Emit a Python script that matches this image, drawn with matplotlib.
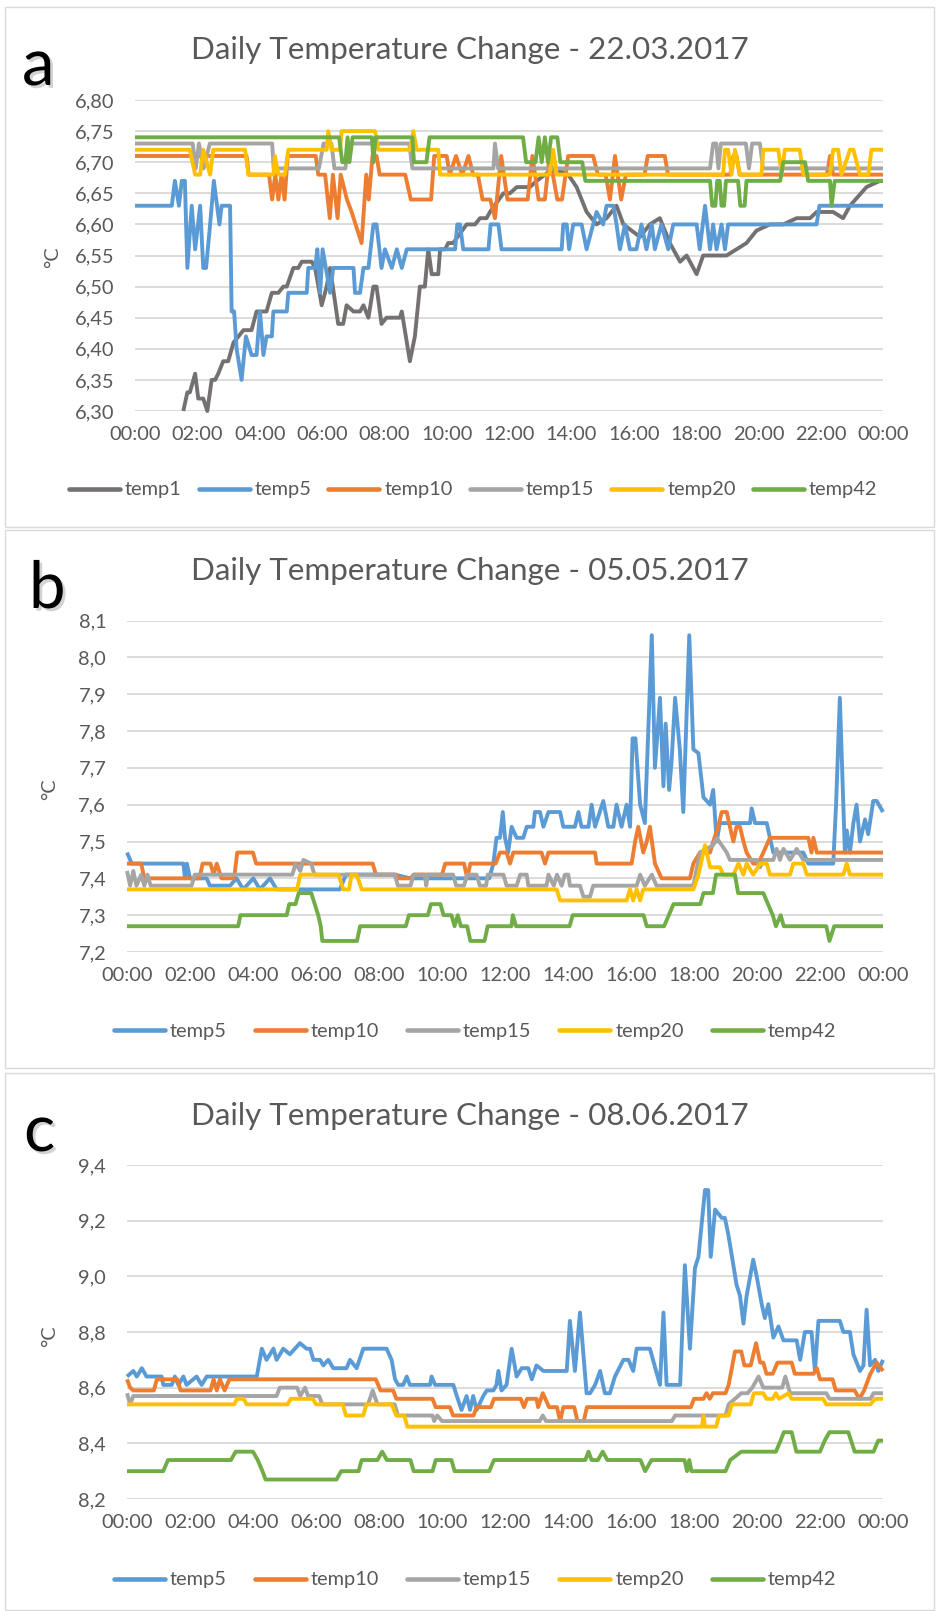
import matplotlib
matplotlib.use('Agg')
import matplotlib.pyplot as plt
import matplotlib.patheffects as pe
from matplotlib.patches import Rectangle

plt.rcParams['font.family'] = ['Lato', 'DejaVu Sans']

# ---------------- data (hour, °C) ----------------
SERIES_A = ['temp1', 'temp5', 'temp10', 'temp15', 'temp20', 'temp42']
SERIES_BC = ['temp5', 'temp10', 'temp15', 'temp20', 'temp42']
COLORS = {'temp1': '#767171', 'temp5': '#5B9BD5', 'temp10': '#ED7D31',
          'temp15': '#A5A5A5', 'temp20': '#FFC000', 'temp42': '#70AD47'}
TITLES = ['Daily Temperature Change - 22.03.2017',
          'Daily Temperature Change - 05.05.2017',
          'Daily Temperature Change - 08.06.2017']
LETTERS = ['a', 'b', 'c']
X_TICKS = [0, 2, 4, 6, 8, 10, 12, 14, 16, 18, 20, 22, 24]
X_LABELS = ['00:00', '02:00', '04:00', '06:00', '08:00', '10:00', '12:00',
            '14:00', '16:00', '18:00', '20:00', '22:00', '00:00']
Y_TICKS_A = [6.30, 6.35, 6.40, 6.45, 6.50, 6.55, 6.60, 6.65, 6.70, 6.75, 6.80]
Y_TICKS_B = [7.2, 7.3, 7.4, 7.5, 7.6, 7.7, 7.8, 7.9, 8.0, 8.1]
Y_TICKS_C = [8.2, 8.4, 8.6, 8.8, 9.0, 9.2, 9.4]

# panel a
A_TEMP1 = [(1.55,6.30),(1.68,6.33),(1.76,6.33),(1.93,6.36),(2.03,6.32),(2.19,6.32),(2.32,6.30),(2.46,6.35),(2.57,6.35),(2.67,6.36),
           (2.83,6.38),(2.99,6.38),(3.16,6.41),(3.48,6.43),(3.74,6.43),(3.90,6.46),(4.22,6.46),(4.39,6.49),(4.60,6.49),(4.76,6.50),
           (4.87,6.50),(5.08,6.53),(5.24,6.53),(5.35,6.54),(5.67,6.54),(5.78,6.53),(5.99,6.47),(6.15,6.50),(6.26,6.53),(6.52,6.44),
           (6.68,6.44),(6.79,6.47),(7.01,6.46),(7.22,6.46),(7.33,6.47),(7.49,6.45),(7.65,6.50),(7.75,6.50),(7.91,6.44),(8.07,6.45),
           (8.50,6.45),(8.56,6.46),(8.82,6.38),(8.98,6.42),(9.14,6.50),(9.30,6.50),(9.41,6.56),(9.52,6.52),(9.73,6.52),(9.79,6.56),
           (9.95,6.56),(10.05,6.57),(10.21,6.57),(10.64,6.60),(10.91,6.60),(11.07,6.61),(11.28,6.61),(11.39,6.62),(11.82,6.65),(12.03,6.65),
           (12.25,6.66),(12.67,6.66),(12.89,6.67),(13.42,6.69),(13.90,6.68),(14.17,6.66),(14.49,6.62),(14.81,6.60),(15.13,6.61),(15.45,6.63),
           (15.67,6.60),(16.20,6.58),(16.52,6.60),(16.84,6.61),(17.16,6.57),(17.49,6.54),(17.70,6.55),(18.02,6.52),(18.23,6.55),(18.66,6.55),
           (18.98,6.55),(19.30,6.56),(19.62,6.57),(19.94,6.59),(20.37,6.60),(20.80,6.60),(21.23,6.61),(21.66,6.61),(21.87,6.62),(22.40,6.62),
           (22.72,6.61),(22.94,6.63),(23.47,6.66),(23.90,6.67),(24.0,6.67)]
A_TEMP5 = [(0,6.63),(1.18,6.63),(1.28,6.67),(1.41,6.63),(1.50,6.67),(1.60,6.67),(1.68,6.53),(1.82,6.63),(1.93,6.56),(2.09,6.63),
           (2.19,6.53),(2.28,6.53),(2.41,6.60),(2.53,6.67),(2.71,6.60),(2.78,6.63),(3.05,6.63),(3.10,6.46),(3.18,6.46),(3.26,6.40),
           (3.42,6.35),(3.56,6.42),(3.74,6.39),(3.90,6.39),(4.01,6.46),(4.12,6.39),(4.22,6.42),(4.39,6.42),(4.44,6.46),(4.87,6.46),
           (4.92,6.49),(5.51,6.49),(5.56,6.53),(5.78,6.53),(5.85,6.56),(5.94,6.49),(6.02,6.56),(6.26,6.49),(6.36,6.53),(7.01,6.53),
           (7.06,6.49),(7.22,6.49),(7.33,6.53),(7.49,6.53),(7.65,6.60),(7.75,6.60),(7.91,6.53),(8.02,6.56),(8.24,6.53),(8.40,6.56),
           (8.56,6.53),(8.72,6.56),(10.27,6.56),(10.34,6.60),(10.43,6.60),(10.53,6.56),(11.34,6.56),(11.41,6.60),(11.66,6.60),(11.76,6.56),
           (13.69,6.56),(13.74,6.60),(13.85,6.60),(13.93,6.56),(14.06,6.60),(14.33,6.60),(14.49,6.56),(14.70,6.60),(14.81,6.62),(15.02,6.60),
           (15.13,6.63),(15.35,6.63),(15.45,6.60),(15.56,6.56),(15.72,6.60),(15.88,6.56),(16.09,6.56),(16.25,6.60),(16.41,6.56),(16.58,6.60),
           (16.68,6.56),(16.89,6.60),(17.11,6.56),(17.27,6.60),(18.02,6.60),(18.12,6.56),(18.29,6.63),(18.45,6.56),(18.55,6.60),(18.66,6.56),
           (18.82,6.60),(18.93,6.56),(19.03,6.60),(21.87,6.60),(21.96,6.63),(24.0,6.63)]
A_TEMP10 = [(0,6.71),(3.58,6.71),(3.65,6.68),(4.30,6.68),(4.40,6.64),(4.50,6.68),(4.60,6.64),(4.70,6.68),(4.80,6.64),(4.90,6.71),
            (5.80,6.71),(5.88,6.68),(6.10,6.68),(6.25,6.61),(6.35,6.68),(6.50,6.61),(6.60,6.68),(6.80,6.64),(6.95,6.62),(7.27,6.57),
            (7.42,6.68),(7.50,6.64),(7.62,6.71),(7.75,6.71),(7.85,6.68),(8.67,6.68),(8.85,6.64),(9.50,6.64),(9.60,6.71),(10.00,6.71),
            (10.10,6.68),(10.30,6.71),(10.50,6.68),(10.70,6.71),(10.85,6.68),(11.00,6.68),(11.15,6.64),(11.40,6.64),(11.55,6.61),(11.75,6.71),
            (11.95,6.64),(12.60,6.64),(12.75,6.71),(12.95,6.64),(13.15,6.64),(13.30,6.71),(13.55,6.64),(13.70,6.64),(13.90,6.71),(14.70,6.71),
            (14.85,6.68),(15.10,6.68),(15.24,6.64),(15.40,6.71),(15.60,6.64),(15.75,6.68),(16.35,6.68),(16.45,6.71),(17.00,6.71),(17.10,6.68),
            (19.10,6.68),(19.20,6.71),(19.30,6.71),(19.40,6.68),(22.20,6.68),(22.30,6.71),(22.40,6.68),(24.0,6.68)]
A_TEMP15 = [(0,6.73),(1.85,6.73),(1.95,6.69),(2.05,6.73),(2.20,6.69),(2.40,6.73),(4.40,6.73),(4.45,6.69),(5.90,6.69),(6.05,6.73),
            (6.30,6.73),(6.40,6.69),(6.75,6.69),(6.85,6.73),(8.80,6.73),(8.90,6.69),(11.50,6.69),(11.55,6.73),(11.65,6.69),(18.45,6.69),
            (18.55,6.73),(18.65,6.73),(18.72,6.69),(18.80,6.73),(19.60,6.73),(19.70,6.69),(19.80,6.73),(20.05,6.73),(20.15,6.69),(24.0,6.69)]
A_TEMP20 = [(0,6.72),(1.76,6.72),(1.93,6.68),(2.09,6.68),(2.19,6.72),(2.41,6.68),(2.51,6.72),(3.53,6.72),(3.64,6.68),(4.44,6.68),
            (4.49,6.71),(4.60,6.68),(4.81,6.68),(4.92,6.72),(6.15,6.72),(6.20,6.75),(6.31,6.72),(6.58,6.72),(6.63,6.75),(7.70,6.75),
            (7.81,6.72),(8.82,6.72),(8.93,6.75),(9.04,6.72),(9.73,6.72),(9.79,6.68),(13.30,6.68),(13.42,6.72),(13.53,6.68),(18.87,6.68),
            (18.93,6.72),(19.03,6.72),(19.14,6.68),(19.25,6.72),(19.41,6.68),(20.10,6.68),(20.16,6.72),(20.64,6.72),(20.75,6.68),(20.85,6.72),
            (21.33,6.72),(21.44,6.68),(22.30,6.68),(22.40,6.72),(22.56,6.72),(22.67,6.68),(22.94,6.72),(23.05,6.72),(23.26,6.68),(23.53,6.68),
            (23.63,6.72),(24.0,6.72)]
A_TEMP42 = [(0,6.74),(6.55,6.74),(6.65,6.70),(6.75,6.70),(6.82,6.74),(6.88,6.70),(6.98,6.74),(7.60,6.74),(7.65,6.70),(7.72,6.74),
            (8.90,6.74),(8.95,6.70),(9.35,6.70),(9.45,6.74),(12.45,6.74),(12.55,6.70),(12.85,6.70),(12.95,6.74),(13.05,6.70),(13.15,6.74),
            (13.25,6.70),(13.35,6.74),(13.55,6.74),(13.65,6.70),(14.35,6.70),(14.45,6.67),(18.45,6.67),(18.52,6.63),(18.62,6.63),(18.68,6.67),
            (18.76,6.67),(18.82,6.63),(18.90,6.63),(18.96,6.67),(19.35,6.67),(19.42,6.63),(19.56,6.63),(19.62,6.67),(20.70,6.67),(20.80,6.70),
            (21.50,6.70),(21.60,6.67),(22.30,6.67),(22.35,6.63),(22.45,6.67),(24.0,6.67)]

# panel b
B_TEMP5 = [(0,7.47),(0.15,7.44),(1.79,7.44),(1.84,7.40),(1.90,7.44),(2.00,7.40),(2.53,7.40),(2.63,7.38),(3.27,7.38),(3.48,7.40),
           (3.69,7.37),(4.01,7.40),(4.22,7.37),(4.54,7.40),(4.75,7.37),(6.76,7.37),(6.95,7.41),(8.50,7.41),(9.00,7.40),(11.50,7.40),
           (11.63,7.44),(11.73,7.51),(11.84,7.51),(11.93,7.58),(12.00,7.51),(12.10,7.47),(12.21,7.54),(12.37,7.51),(12.58,7.51),(12.69,7.54),
           (12.90,7.54),(12.95,7.58),(13.11,7.58),(13.22,7.54),(13.38,7.58),(13.75,7.58),(13.85,7.54),(14.22,7.54),(14.33,7.58),(14.43,7.54),
           (14.65,7.54),(14.75,7.60),(14.86,7.54),(15.12,7.61),(15.28,7.54),(15.44,7.54),(15.54,7.60),(15.70,7.54),(15.86,7.60),(15.97,7.54),
           (16.05,7.78),(16.14,7.78),(16.29,7.60),(16.44,7.55),(16.66,8.06),(16.76,7.70),(16.92,7.89),(17.03,7.65),(17.10,7.82),(17.21,7.64),
           (17.29,7.72),(17.40,7.89),(17.55,7.75),(17.66,7.58),(17.85,8.06),(17.98,7.75),(18.14,7.74),(18.30,7.62),(18.51,7.60),(18.61,7.64),
           (18.72,7.50),(18.82,7.55),(19.78,7.55),(19.83,7.59),(19.94,7.55),(20.31,7.55),(20.41,7.51),(20.52,7.47),(21.47,7.47),(21.63,7.44),
           (22.42,7.44),(22.51,7.60),(22.63,7.89),(22.79,7.47),(22.85,7.53),(22.95,7.47),(23.06,7.55),(23.16,7.60),(23.27,7.50),(23.43,7.56),
           (23.53,7.52),(23.69,7.61),(23.80,7.61),(24.0,7.58)]
B_TEMP10 = [(0,7.44),(0.45,7.44),(0.55,7.40),(2.30,7.40),(2.40,7.44),(2.65,7.44),(2.75,7.41),(2.85,7.44),(3.00,7.40),(3.40,7.40),
            (3.50,7.47),(4.00,7.47),(4.10,7.44),(7.80,7.44),(7.90,7.41),(8.55,7.41),(8.60,7.40),(9.00,7.40),(9.10,7.41),(10.00,7.41),
            (10.10,7.44),(10.70,7.44),(10.80,7.40),(10.90,7.44),(11.70,7.44),(11.84,7.47),(12.05,7.47),(12.16,7.44),(12.26,7.47),(13.16,7.47),
            (13.27,7.44),(13.38,7.47),(14.86,7.47),(14.91,7.44),(16.02,7.44),(16.13,7.50),(16.23,7.54),(16.39,7.47),(16.50,7.50),(16.60,7.54),
            (16.76,7.44),(16.97,7.40),(17.87,7.40),(17.98,7.44),(18.19,7.47),(18.51,7.47),(18.61,7.50),(18.77,7.54),(18.88,7.58),(19.04,7.58),
            (19.14,7.54),(19.25,7.50),(19.35,7.54),(19.46,7.54),(19.57,7.50),(19.67,7.47),(19.88,7.44),(20.04,7.44),(20.20,7.47),(20.41,7.51),
            (21.63,7.51),(21.73,7.47),(21.79,7.51),(21.90,7.47),(24.0,7.47)]
B_TEMP15 = [(0,7.42),(0.10,7.38),(0.20,7.42),(0.30,7.38),(0.45,7.41),(0.55,7.38),(0.65,7.41),(0.75,7.38),(2.05,7.38),(2.15,7.41),
            (5.25,7.41),(5.35,7.44),(5.50,7.42),(5.60,7.45),(5.85,7.44),(5.95,7.41),(8.50,7.41),(8.60,7.38),(9.00,7.38),(9.10,7.41),
            (9.45,7.41),(9.50,7.38),(9.55,7.41),(10.35,7.41),(10.45,7.38),(10.70,7.38),(10.80,7.41),(11.10,7.41),(11.20,7.38),(11.40,7.38),
            (11.45,7.41),(11.95,7.41),(12.05,7.38),(12.37,7.38),(12.48,7.41),(12.69,7.41),(12.74,7.38),(13.32,7.38),(13.38,7.41),(13.55,7.38),
            (13.65,7.41),(13.80,7.38),(13.90,7.41),(14.01,7.41),(14.06,7.38),(14.38,7.38),(14.49,7.35),(14.70,7.35),(14.80,7.38),(16.18,7.38),
            (16.29,7.41),(16.44,7.38),(16.66,7.41),(16.81,7.38),(17.98,7.38),(18.19,7.47),(18.61,7.49),(18.72,7.51),(19.04,7.47),(19.14,7.45),
            (19.99,7.45),(20.10,7.43),(20.20,7.45),(20.52,7.45),(20.62,7.48),(20.73,7.45),(20.84,7.48),(21.05,7.45),(21.26,7.48),(21.47,7.45),
            (24.0,7.45)]
B_TEMP20 = [(0,7.37),(5.40,7.37),(5.50,7.41),(6.71,7.41),(6.87,7.37),(7.05,7.37),(7.13,7.41),(7.29,7.41),(7.45,7.37),(13.64,7.37),
            (13.75,7.34),(15.86,7.34),(15.97,7.37),(16.07,7.34),(16.18,7.37),(16.29,7.34),(16.39,7.37),(17.98,7.37),(18.14,7.41),(18.35,7.49),
            (18.51,7.43),(18.82,7.43),(18.93,7.41),(19.25,7.41),(19.41,7.44),(19.57,7.41),(19.67,7.44),(19.88,7.41),(20.10,7.44),(20.31,7.44),
            (20.41,7.41),(21.05,7.41),(21.15,7.44),(21.47,7.44),(21.58,7.41),(22.74,7.41),(22.85,7.44),(22.95,7.41),(24.0,7.41)]
B_TEMP42 = [(0,7.27),(3.53,7.27),(3.60,7.30),(5.07,7.30),(5.15,7.33),(5.35,7.33),(5.45,7.36),(5.85,7.36),(6.07,7.30),(6.15,7.27),
            (6.20,7.23),(7.30,7.23),(7.40,7.27),(8.85,7.27),(8.95,7.30),(9.55,7.30),(9.65,7.33),(9.95,7.33),(10.05,7.30),(10.30,7.30),
            (10.40,7.27),(10.50,7.30),(10.60,7.27),(10.80,7.27),(10.90,7.23),(11.35,7.23),(11.45,7.27),(12.20,7.27),(12.25,7.30),(12.35,7.27),
            (14.05,7.27),(14.15,7.30),(16.40,7.30),(16.50,7.27),(17.05,7.27),(17.20,7.30),(17.35,7.33),(18.20,7.33),(18.30,7.36),(18.60,7.36),
            (18.70,7.41),(19.30,7.41),(19.40,7.36),(20.20,7.36),(20.35,7.33),(20.50,7.30),(20.60,7.27),(20.75,7.30),(20.85,7.27),(22.20,7.27),
            (22.30,7.23),(22.45,7.27),(24.0,7.27)]

# panel c
C_TEMP5 = [(0,8.64),(0.20,8.66),(0.31,8.64),(0.47,8.67),(0.62,8.64),(1.10,8.64),(1.15,8.61),(1.42,8.61),(1.52,8.64),(1.63,8.61),
           (1.79,8.64),(1.89,8.61),(2.21,8.64),(2.37,8.61),(2.53,8.64),(4.12,8.64),(4.28,8.74),(4.43,8.70),(4.65,8.74),(4.75,8.70),
           (4.96,8.74),(5.17,8.72),(5.49,8.76),(5.70,8.74),(5.81,8.74),(5.92,8.70),(6.13,8.70),(6.23,8.68),(6.39,8.70),(6.55,8.67),
           (6.97,8.67),(7.08,8.70),(7.29,8.67),(7.50,8.74),(8.24,8.74),(8.40,8.70),(8.51,8.63),(8.61,8.61),(8.77,8.61),(8.88,8.64),
           (8.98,8.61),(9.62,8.61),(9.67,8.64),(9.78,8.61),(10.36,8.61),(10.47,8.57),(10.62,8.52),(10.78,8.57),(10.89,8.52),(10.99,8.57),
           (11.10,8.52),(11.31,8.57),(11.42,8.59),(11.63,8.59),(11.73,8.61),(11.79,8.66),(11.89,8.59),(12.05,8.61),(12.21,8.74),(12.37,8.64),
           (12.53,8.67),(12.74,8.67),(12.85,8.63),(13.00,8.68),(13.22,8.66),(13.96,8.66),(14.06,8.84),(14.22,8.66),(14.38,8.87),(14.59,8.58),
           (14.70,8.58),(14.86,8.61),(15.02,8.66),(15.17,8.58),(15.33,8.58),(15.49,8.64),(15.76,8.70),(15.92,8.70),(16.07,8.66),(16.18,8.74),
           (16.60,8.74),(16.92,8.61),(17.03,8.87),(17.13,8.61),(17.56,8.61),(17.71,9.04),(17.87,8.74),(18.03,9.03),(18.14,9.07),(18.35,9.31),
           (18.45,9.31),(18.53,9.07),(18.67,9.24),(18.88,9.21),(18.98,9.21),(19.09,9.15),(19.25,9.04),(19.35,8.97),(19.46,8.93),(19.57,8.83),
           (19.67,8.93),(19.88,9.06),(19.99,9.00),(20.15,8.90),(20.25,8.85),(20.36,8.90),(20.52,8.78),(20.68,8.82),(20.84,8.77),(21.26,8.77),
           (21.37,8.70),(21.52,8.80),(21.73,8.80),(21.84,8.66),(21.95,8.84),(22.63,8.84),(22.74,8.80),(22.95,8.80),(23.06,8.72),(23.27,8.66),
           (23.38,8.68),(23.48,8.88),(23.59,8.68),(23.75,8.70),(23.85,8.66),(24.0,8.70)]
C_TEMP10 = [(0,8.63),(0.10,8.60),(0.20,8.59),(0.85,8.59),(0.95,8.63),(1.60,8.63),(1.70,8.59),(2.65,8.59),(2.75,8.63),(2.85,8.59),
            (2.95,8.63),(3.10,8.59),(3.25,8.63),(7.90,8.63),(8.05,8.59),(8.45,8.59),(8.55,8.56),(9.70,8.56),(9.80,8.53),(10.25,8.53),
            (10.35,8.50),(11.00,8.50),(11.10,8.53),(11.55,8.53),(11.65,8.56),(12.50,8.56),(12.60,8.53),(12.70,8.56),(13.00,8.56),(13.05,8.53),
            (13.20,8.58),(13.40,8.53),(13.65,8.53),(13.75,8.48),(13.85,8.53),(14.20,8.53),(14.30,8.48),(14.50,8.48),(14.60,8.53),(17.90,8.53),
            (18.00,8.56),(18.30,8.56),(18.40,8.58),(18.50,8.56),(18.60,8.58),(19.00,8.58),(19.10,8.61),(19.30,8.73),(19.50,8.73),(19.60,8.68),
            (19.80,8.68),(19.97,8.76),(20.10,8.69),(20.20,8.69),(20.30,8.65),(20.50,8.65),(20.65,8.69),(21.10,8.69),(21.20,8.65),(21.80,8.65),
            (21.90,8.67),(22.00,8.63),(22.40,8.63),(22.50,8.59),(23.10,8.59),(23.25,8.56),(23.40,8.59),(23.60,8.65),(23.80,8.69),(24.0,8.66)]
C_TEMP15 = [(0,8.58),(0.10,8.54),(0.20,8.57),(0.40,8.57),(4.75,8.57),(4.85,8.60),(5.40,8.60),(5.50,8.57),(5.65,8.60),(5.75,8.57),
            (6.10,8.57),(6.20,8.54),(7.65,8.54),(7.80,8.59),(7.95,8.54),(8.50,8.54),(8.60,8.50),(9.70,8.50),(9.75,8.48),(9.85,8.50),
            (10.00,8.48),(13.10,8.48),(13.20,8.50),(13.30,8.48),(17.30,8.48),(17.40,8.50),(19.00,8.50),(19.10,8.54),(19.30,8.56),(19.50,8.58),
            (19.70,8.58),(19.85,8.60),(20.05,8.64),(20.20,8.60),(20.80,8.60),(20.90,8.64),(21.05,8.58),(22.20,8.58),(22.30,8.56),(23.60,8.56),
            (23.70,8.58),(24.0,8.58)]
C_TEMP20 = [(0,8.54),(3.40,8.54),(3.50,8.56),(3.70,8.56),(3.80,8.54),(5.10,8.54),(5.20,8.56),(5.90,8.56),(6.00,8.54),(6.85,8.54),
            (6.95,8.50),(7.50,8.50),(7.60,8.54),(8.40,8.54),(8.55,8.50),(8.80,8.50),(8.90,8.46),(18.25,8.46),(18.30,8.50),(18.35,8.46),
            (18.70,8.46),(18.80,8.50),(19.10,8.50),(19.20,8.54),(19.80,8.54),(19.90,8.58),(20.20,8.58),(20.30,8.56),(20.50,8.56),(20.60,8.58),
            (20.70,8.56),(21.00,8.58),(21.10,8.56),(22.10,8.56),(22.20,8.54),(23.60,8.54),(23.75,8.56),(24.0,8.56)]
C_TEMP42 = [(0,8.30),(1.15,8.30),(1.30,8.34),(3.30,8.34),(3.45,8.37),(4.00,8.37),(4.15,8.34),(4.30,8.30),(4.40,8.27),(6.65,8.27),
            (6.80,8.30),(7.35,8.30),(7.45,8.34),(7.95,8.34),(8.10,8.37),(8.25,8.34),(9.00,8.34),(9.10,8.30),(9.70,8.30),(9.80,8.34),
            (10.30,8.34),(10.40,8.30),(11.50,8.30),(11.65,8.34),(14.55,8.34),(14.65,8.37),(14.75,8.34),(14.95,8.34),(15.10,8.37),(15.25,8.34),
            (16.30,8.34),(16.45,8.30),(16.65,8.34),(17.70,8.34),(17.78,8.30),(17.85,8.34),(17.92,8.30),(19.00,8.30),(19.15,8.34),(19.50,8.37),
            (20.60,8.37),(20.75,8.41),(20.85,8.44),(21.10,8.44),(21.25,8.37),(22.00,8.37),(22.15,8.41),(22.30,8.44),(22.90,8.44),(23.10,8.37),
            (23.70,8.37),(23.85,8.41),(24.0,8.41)]

PANEL_A = {'temp1': A_TEMP1, 'temp5': A_TEMP5, 'temp10': A_TEMP10,
           'temp15': A_TEMP15, 'temp20': A_TEMP20, 'temp42': A_TEMP42}
PANEL_B = {'temp5': B_TEMP5, 'temp10': B_TEMP10, 'temp15': B_TEMP15,
           'temp20': B_TEMP20, 'temp42': B_TEMP42}
PANEL_C = {'temp5': C_TEMP5, 'temp10': C_TEMP10, 'temp15': C_TEMP15,
           'temp20': C_TEMP20, 'temp42': C_TEMP42}

# ---------------- layout ----------------
W, H = 939, 1611
fig = plt.figure(figsize=(W / 100, H / 100), dpi=100)
fig.patch.set_facecolor('white')

TXT = '#595959'
GRID = '#D9D9D9'


def fx(x):
    return x / W


def fy(y):
    return 1 - y / H


def add_axes(left, top, right, bottom):
    return fig.add_axes([fx(left), fy(bottom), (right - left) / W, (bottom - top) / H])


panels = [
    dict(data=PANEL_A, order=SERIES_A, box=(5, 7, 934, 527), ax=(135, 100, 883, 411),
         yticks=Y_TICKS_A, fmt='{:.2f}', title_y=59, letter=(22, 85), ylab=(53, 257),
         leg=(473, 490), colsp=0.85),
    dict(data=PANEL_B, order=SERIES_BC, box=(5, 530, 934, 1068), ax=(127, 620.5, 883, 952),
         yticks=Y_TICKS_B, fmt='{:.1f}', title_y=580, letter=(29, 608), ylab=(50, 789),
         leg=(475, 1031), colsp=1.4),
    dict(data=PANEL_C, order=SERIES_BC, box=(5, 1073, 934, 1610), ax=(127, 1165, 883, 1499),
         yticks=Y_TICKS_C, fmt='{:.1f}', title_y=1125, letter=(24, 1151), ylab=(50, 1336),
         leg=(475, 1580), colsp=1.4),
]

for i, p in enumerate(panels):
    x0, y0, x1, y1 = p['box']
    fig.add_artist(Rectangle((fx(x0), fy(y1)), (x1 - x0) / W, (y1 - y0) / H,
                             transform=fig.transFigure, facecolor='none',
                             edgecolor=GRID, lw=1.0))
    ax = add_axes(*p['ax'])
    ax.set_facecolor('none')
    for name in p['order']:
        pts = p['data'][name]
        ax.plot([t for t, _ in pts], [v for _, v in pts], color=COLORS[name],
                lw=2.8, solid_joinstyle='round', solid_capstyle='butt', label=name,
                clip_on=False)
    yt = p['yticks']
    ax.set_ylim(yt[0], yt[-1])
    ax.set_xlim(0, 24)
    ax.set_yticks(yt)
    ax.set_yticklabels([p['fmt'].format(v).replace('.', ',') for v in yt])
    ax.set_xticks(X_TICKS)
    ax.set_xticklabels(X_LABELS)
    ax.tick_params(axis='y', length=0, pad=15, labelsize=14.4, labelcolor=TXT)
    ax.tick_params(axis='x', length=0, pad=11, labelsize=14.4, labelcolor=TXT)
    ax.grid(axis='y', color=GRID, lw=1.3)
    ax.set_axisbelow(True)
    for s in ax.spines.values():
        s.set_visible(False)

    fig.text(fx(470), fy(p['title_y']), TITLES[i], ha='center', va='baseline',
             fontsize=22.6, color=TXT)
    fig.text(fx(p['letter'][0]), fy(p['letter'][1]), LETTERS[i], ha='left',
             va='baseline', fontsize=47, color='black',
             path_effects=[pe.SimplePatchShadow(offset=(2, -2), shadow_rgbFace='#808080',
                                                alpha=0.35), pe.Normal()])
    fig.text(fx(p['ylab'][0]), fy(p['ylab'][1]), '°C', rotation=90, ha='center',
             va='center', fontsize=14.4, color=TXT)

    handles, labels = ax.get_legend_handles_labels()
    leg = fig.legend(handles, labels, loc='center', ncol=len(labels),
                     bbox_to_anchor=(fx(p['leg'][0]), fy(p['leg'][1])),
                     bbox_transform=fig.transFigure, frameon=False,
                     fontsize=14.4, handlelength=2.55, handletextpad=0.25,
                     columnspacing=p['colsp'], borderpad=0, borderaxespad=0)
    for t in leg.get_texts():
        t.set_color(TXT)
    for lh in leg.get_lines():
        lh.set_linewidth(3.3)
        lh.set_solid_capstyle('round')

fig.savefig('out.png', dpi=100, facecolor='white')
